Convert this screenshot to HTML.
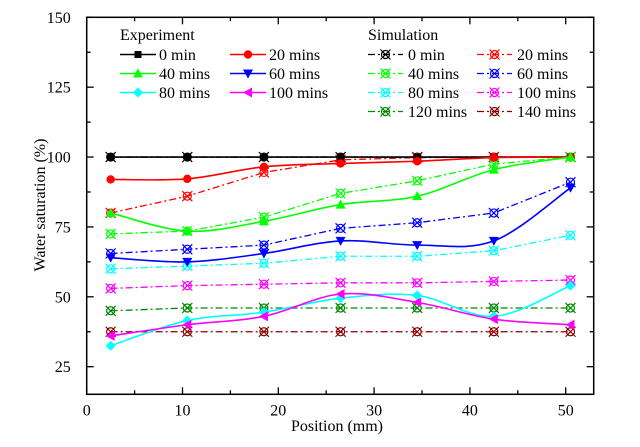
<!DOCTYPE html>
<html><head><meta charset="utf-8"><style>
body{margin:0;background:#fff;}
svg{display:block;}
svg text{font-family:"Times New Roman","Liberation Serif","DejaVu Serif",serif !important;font-size:16px;fill:#000;}
</style></head><body>
<svg id="s" width="640" height="447" viewBox="0 0 640 447" xmlns="http://www.w3.org/2000/svg">
<g font-family="Times New Roman, Liberation Serif, DejaVu Serif, serif" font-size="16">
<text x="86.7" y="415.3" text-anchor="middle">0</text>
<text x="182.5" y="415.3" text-anchor="middle">10</text>
<text x="278.3" y="415.3" text-anchor="middle">20</text>
<text x="374.1" y="415.3" text-anchor="middle">30</text>
<text x="469.9" y="415.3" text-anchor="middle">40</text>
<text x="565.7" y="415.3" text-anchor="middle">50</text>
<text x="70.7" y="22.8" text-anchor="end">150</text>
<text x="70.7" y="92.7" text-anchor="end">125</text>
<text x="70.7" y="162.6" text-anchor="end">100</text>
<text x="70.7" y="232.4" text-anchor="end">75</text>
<text x="70.7" y="302.3" text-anchor="end">50</text>
<text x="70.7" y="372.2" text-anchor="end">25</text>
<text x="337" y="431" text-anchor="middle">Position (mm)</text>
<text transform="translate(45,205) rotate(-90)" text-anchor="middle">Water saturation (%)</text>
<text x="120" y="40">Experiment</text>
<text x="368" y="40">Simulation</text>
<text x="159" y="60">0 min</text>
<text x="269" y="60">20 mins</text>
<text x="159" y="79">40 mins</text>
<text x="269" y="79">60 mins</text>
<text x="159" y="98">80 mins</text>
<text x="269" y="98">100 mins</text>
<text x="408" y="60">0 min</text>
<text x="517" y="60">20 mins</text>
<text x="408" y="79">40 mins</text>
<text x="517" y="79">60 mins</text>
<text x="408" y="98">80 mins</text>
<text x="517" y="98">100 mins</text>
<text x="408" y="117">120 mins</text>
<text x="517" y="117">140 mins</text>
</g>
</svg>
<script>
const S=document.getElementById('s');
let h='';
const X=v=>86.7+v*9.58, Y=v=>17.3+(150-v)*2.795;
const L=86.7,R=593.7,T=17.3,B=394.3;
h+=`<rect x="${L}" y="${T}" width="${R-L}" height="${B-T}" fill="none" stroke="#000" stroke-width="1.5"/>`;
for(let v=0;v<=50;v+=5){const x=X(v),len=v%10==0?7:4;
h+=`<line x1="${x}" y1="${B}" x2="${x}" y2="${B-len}" stroke="#000" stroke-width="1.3"/><line x1="${x}" y1="${T}" x2="${x}" y2="${T+len}" stroke="#000" stroke-width="1.3"/>`;}
for(let v=25;v<=150;v+=12.5){const y=Y(v),len=(v%25==0)?7:4;
h+=`<line x1="${L}" y1="${y}" x2="${L+len}" y2="${y}" stroke="#000" stroke-width="1.3"/><line x1="${R}" y1="${y}" x2="${R-len}" y2="${y}" stroke="#000" stroke-width="1.3"/>`;}
const xs=[2.5,10.5,18.5,26.5,34.5,42.5,50.5];
function mk(t,x,y,c){
 if(t=='sq')return `<rect x="${x-3.5}" y="${y-3.5}" width="7" height="7" fill="${c}"/>`;
 if(t=='ci')return `<circle cx="${x}" cy="${y}" r="4.2" fill="${c}"/>`;
 if(t=='tu')return `<path d="M${x},${y-5}L${x+5},${y+4}L${x-5},${y+4}Z" fill="${c}"/>`;
 if(t=='td')return `<path d="M${x},${y+5}L${x+5},${y-4}L${x-5},${y-4}Z" fill="${c}"/>`;
 if(t=='di')return `<path d="M${x},${y-5}L${x+5},${y}L${x},${y+5}L${x-5},${y}Z" fill="${c}"/>`;
 if(t=='tl')return `<path d="M${x-5},${y}L${x+4},${y-5}L${x+4},${y+5}Z" fill="${c}"/>`;
 if(t=='cx')return `<circle cx="${x}" cy="${y}" r="4" fill="none" stroke="${c}" stroke-width="1.2"/><path d="M${x-5},${y-5}L${x+5},${y+5}M${x+5},${y-5}L${x-5},${y+5}" stroke="${c}" stroke-width="1.2"/>`;
}
function smooth(p){let d=`M${p[0][0]},${p[0][1]}`;
 for(let i=0;i<p.length-1;i++){const p0=p[i-1]||p[i],p1=p[i],p2=p[i+1],p3=p[i+2]||p2;
 d+=`C${p1[0]+(p2[0]-p0[0])/6},${p1[1]+(p2[1]-p0[1])/6} ${p2[0]-(p3[0]-p1[0])/6},${p2[1]-(p3[1]-p1[1])/6} ${p2[0]},${p2[1]}`;}return d;}
const sim=[
['#000',[100,100,100,100,100,100,100]],
['#f00',[80,86,94.5,99,99.8,100,100]],
['#0f0',[72.5,73.5,78.5,87,91.5,97.5,100]],
['#00f',[65.5,67,68.5,74.5,76.5,80,91]],
['#0ff',[60,61,62,64.5,64.5,66.5,72]],
['#f0f',[53,54,54.5,55,55,55.5,56]],
['#080',[45,46,46,46,46,46,46]],
['#800',[37.5,37.5,37.5,37.5,37.5,37.5,37.5]]];
const exp=[
['#000','sq',[100,100,100,100,100,100,100]],
['#f00','ci',[92,92.2,96.5,97.7,98.5,99.8,100]],
['#0f0','tu',[80,73.5,77,83,86,95.5,100]],
['#00f','td',[64,62.5,65.5,70,68.5,70,89]],
['#0ff','di',[32.5,41.5,44.5,49.5,50.5,43,54]],
['#f0f','tl',[36,40,43,51,48,42,40]]];
const dash='7,3,2,3';
sim.forEach(([c,v])=>{const p=v.map((y,i)=>[X(xs[i]),Y(y)]);
 h+=`<polyline points="${p.map(q=>q.join(',')).join(' ')}" fill="none" stroke="${c}" stroke-width="1.3" stroke-dasharray="${dash}"/>`;
 p.forEach(q=>h+=mk('cx',q[0],q[1],c));});
exp.forEach(([c,m,v])=>{const p=v.map((y,i)=>[X(xs[i]),Y(y)]);
 h+=`<path d="${smooth(p)}" fill="none" stroke="${c}" stroke-width="1.6"/>`;
 p.forEach(q=>h+=mk(m,q[0],q[1],c));});
exp.forEach(([c,m],i)=>{const col=i%2,row=Math.floor(i/2),x=col?230:120,y=54.5+row*19;
 h+=`<line x1="${x}" y1="${y}" x2="${x+36}" y2="${y}" stroke="${c}" stroke-width="1.6"/>`+mk(m,x+18,y,c);});
sim.forEach(([c],i)=>{const col=i%2,row=Math.floor(i/2),x=col?477:368,y=54.5+row*19;
 h+=`<line x1="${x}" y1="${y}" x2="${x+35}" y2="${y}" stroke="${c}" stroke-width="1.3" stroke-dasharray="${dash}"/>`+mk('cx',x+17.5,y,c);});
S.insertAdjacentHTML('afterbegin',h);
</script>
</body></html>
